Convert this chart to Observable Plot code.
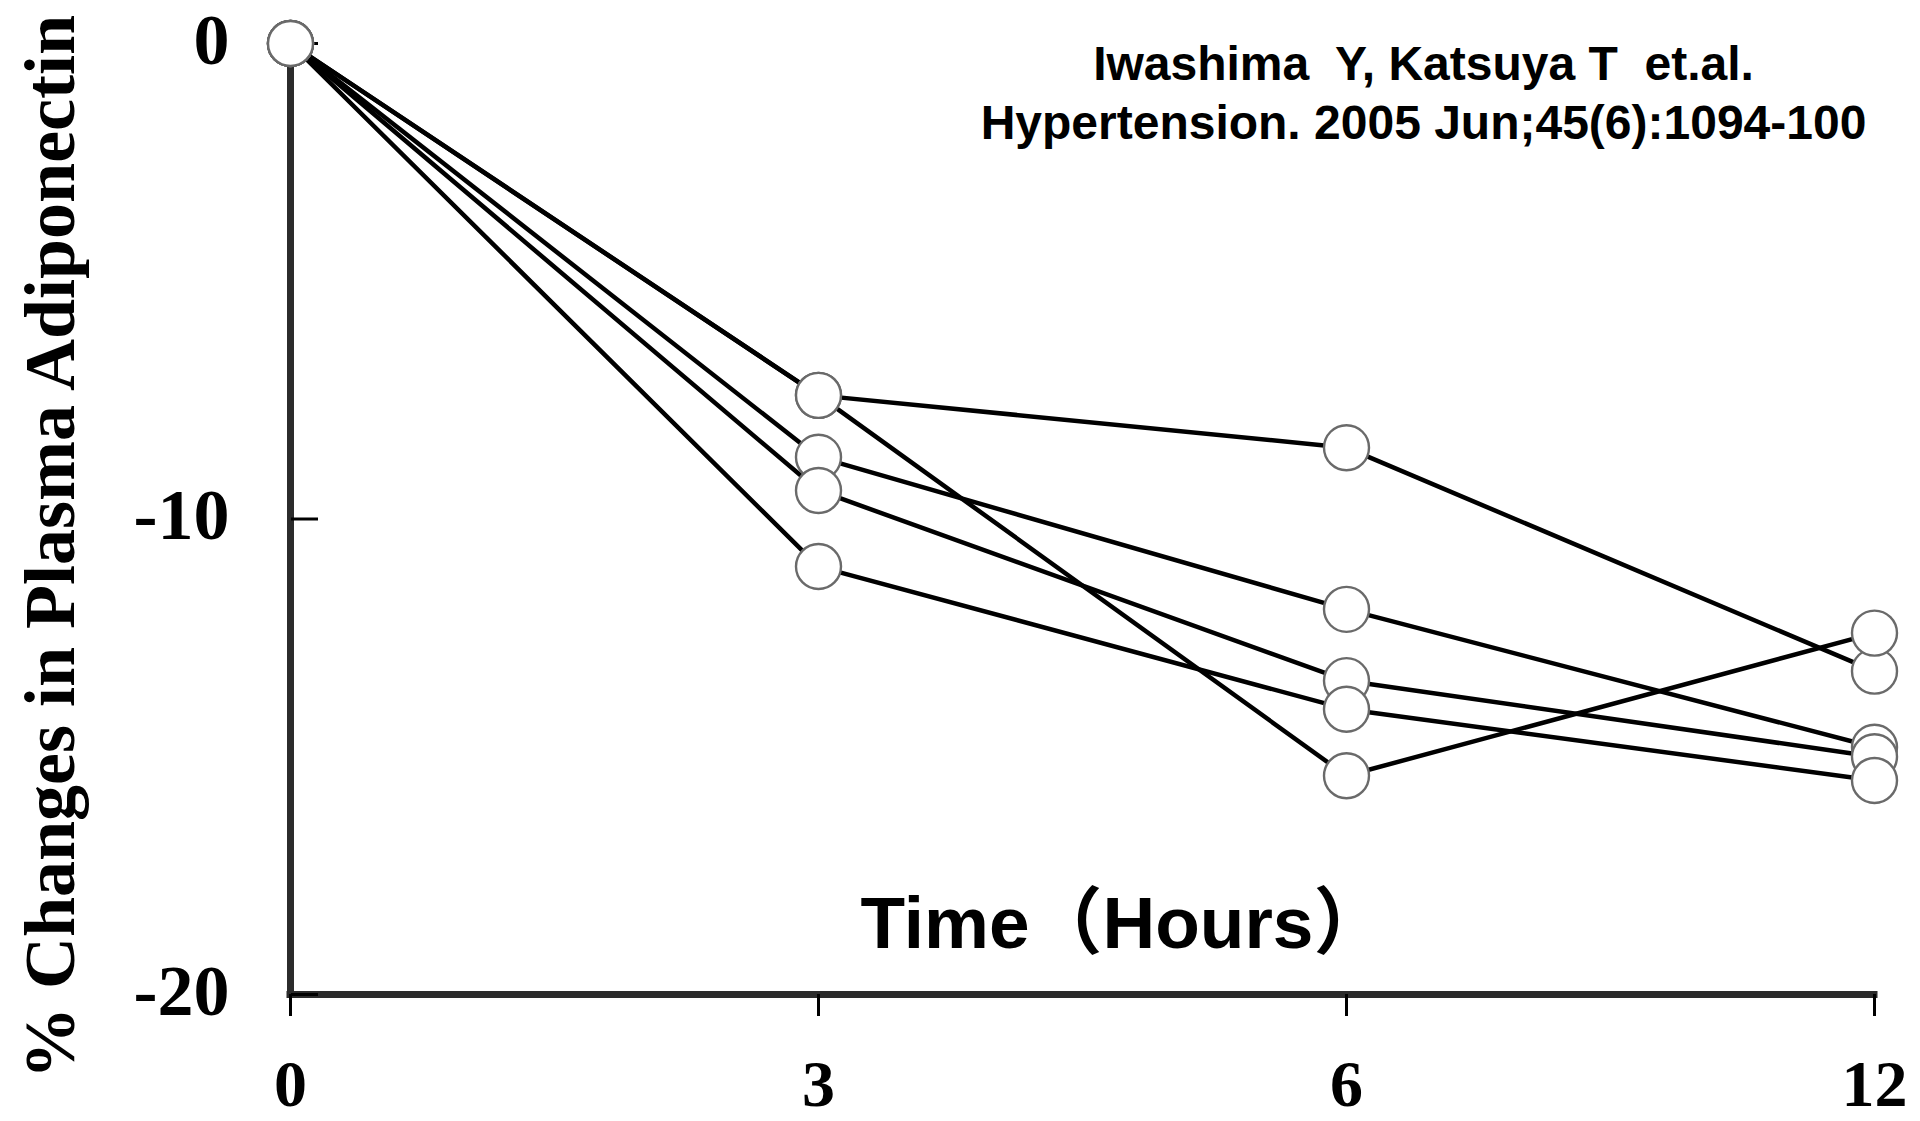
<!DOCTYPE html>
<html>
<head>
<meta charset="utf-8">
<script src="https://cdn.jsdelivr.net/npm/d3@7"></script>
<script src="https://cdn.jsdelivr.net/npm/@observablehq/plot@0.6"></script>
<style>
html, body { margin: 0; padding: 0; background: #fff; overflow: hidden; }
svg text { white-space: pre; }
</style>
</head>
<body>
<div id="chart"></div>
<script>
// ---- data ----
const times = [0, 3, 6, 12];
const seriesA = [0, -7.4, -8.5, -13.2];
const seriesB = [0, -7.4, -15.4, -12.4];
const seriesC = [0, -8.7, -11.9, -14.8];
const seriesD = [0, -9.4, -13.4, -15.0];
const seriesE = [0, -11.0, -14.0, -15.5];
const yTicks = [0, -10, -20];
const yLabel = "% Changes in Plasma Adiponectin";
const xLabel = "Time（Hours）";
const citation = ["Iwashima  Y, Katsuya T  et.al.", "Hypertension. 2005 Jun;45(6):1094-100"];

const series = [seriesA, seriesB, seriesC, seriesD, seriesE];
const rows = series.flatMap((vals, s) => vals.map((v, i) => ({series: s, time: times[i], value: v})));

const W = 1920, H = 1121, mL = 289, mR = 45, mT = 43, mB = 127;
const frameW = W - mL - mR;
const serif = "'Liberation Serif', 'Times New Roman', serif";
const sans = "'Liberation Sans', Arial, 'Noto Sans CJK JP', sans-serif";

const chart = Plot.plot({
  width: W, height: H,
  marginLeft: mL, marginRight: mR, marginTop: mT, marginBottom: mB,
  style: {fontFamily: serif, fontSize: "72px", fontWeight: "bold", background: "#fff", color: "#000", overflow: "visible"},
  x: {type: "point", domain: times, padding: 0},
  y: {domain: [d3.min(yTicks), d3.max(yTicks)]},
  marks: [
    Plot.ruleX([times[0]], {y1: d3.min(yTicks), y2: d3.max(yTicks), stroke: "#2b2b2b", strokeWidth: 7, strokeLinecap: "square"}),
    Plot.ruleY([d3.min(yTicks)], {x1: times[0], x2: times[times.length - 1], stroke: "#2b2b2b", strokeWidth: 7, strokeLinecap: "square"}),
    Plot.tickY(yTicks, {y: d => d, insetLeft: 2, insetRight: frameW - 29, stroke: "#000", strokeWidth: 3}),
    Plot.axisX({ticks: times, tickSize: 22, tickPadding: 43, strokeWidth: 3, label: null, fontSize: 66, fontWeight: "bold", fontFamily: serif}),
    Plot.axisY({ticks: yTicks, tickSize: 0, tickPadding: 60, dy: -3, tickFormat: d => String(d), label: null, fontSize: 72, fontWeight: "bold", fontFamily: serif}),
    Plot.line(rows, {x: "time", y: "value", z: "series", stroke: "#000", strokeWidth: 4.5}),
    Plot.dot(rows, {x: "time", y: "value", r: 22.5, fill: "#fff", stroke: "#6a6a6a", strokeWidth: 2.4}),
    Plot.text([yLabel], {text: d => d, frameAnchor: "left", textAnchor: "middle", rotate: -90, dx: -239, dy: 28, lineAnchor: "middle", fontSize: 72, fontWeight: "bold", fontFamily: serif, fill: "#000"}),
    Plot.text([xLabel], {text: d => d, frameAnchor: "bottom-left", textAnchor: "start", dx: 571, dy: -70, lineAnchor: "middle", fontSize: 73, fontWeight: "bold", fontFamily: sans, fill: "#000"}),
    Plot.text([citation.join("\n")], {text: d => d, frameAnchor: "top", textAnchor: "middle", dx: 341, dy: -5, lineAnchor: "top", lineHeight: 1.229, fontSize: 48, fontWeight: "bold", fontFamily: sans, fill: "#000"})
  ]
});
document.getElementById("chart").appendChild(chart);
</script>
</body>
</html>
